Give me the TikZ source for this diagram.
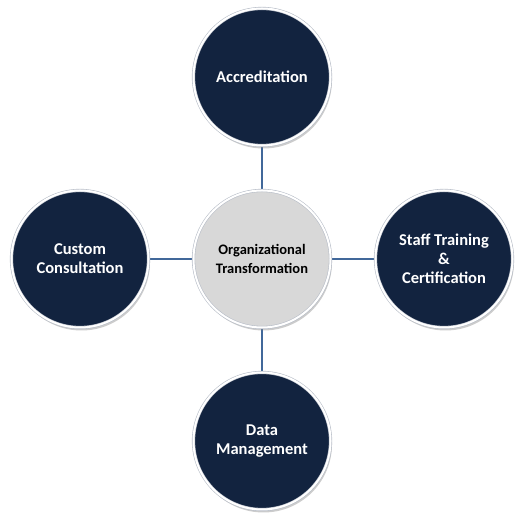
\documentclass[tikz,border=0pt]{standalone}
\usepackage{fontspec}
\setmainfont{Carlito}
\usepackage{tikz}
\usetikzlibrary{backgrounds}
\usetikzlibrary{shadows}
\definecolor{navy}{HTML}{12233F}
\definecolor{hub}{HTML}{D8D8D8}
\definecolor{link}{HTML}{41689A}
\definecolor{rimedge}{HTML}{B8BEC8}
\tikzstyle{ring}=[circle, minimum size=137pt, inner sep=0pt, align=center, font=\fontsize{16.5}{19}\selectfont\bfseries, draw=rimedge, line width=0.6pt, double=white, double distance=2pt, drop shadow={shadow xshift=1.5pt, shadow yshift=-3pt, opacity=0.4}]
\tikzstyle{outer}=[ring, fill=navy, text=white]
\tikzstyle{core}=[ring, fill=hub, text=black, font=\fontsize{14.5}{19}\selectfont\bfseries]
\tikzstyle{spoke}=[draw=link, line width=2.8pt]

\begin{document}
\begin{tikzpicture}[x=1pt, y=1pt]
	\useasboundingbox (0,0) rectangle (521,518);
	\draw (262,259) node[core] (org) {Organizational\\Transformation};
	\draw (262,441) node[outer] (acc) {Accreditation};
	\draw (444,259) node[outer] (staff) {Staff Training\\\&\\Certification};
	\draw (262,77) node[outer] (data) {Data\\Management};
	\draw (80,259) node[outer] (cust) {Custom\\Consultation};
	\begin{pgfonlayer}{background}
	\draw[spoke] (org) -- (acc);
	\draw[spoke] (org) -- (staff);
	\draw[spoke] (org) -- (data);
	\draw[spoke] (org) -- (cust);
	\end{pgfonlayer}
\end{tikzpicture}
\end{document}
